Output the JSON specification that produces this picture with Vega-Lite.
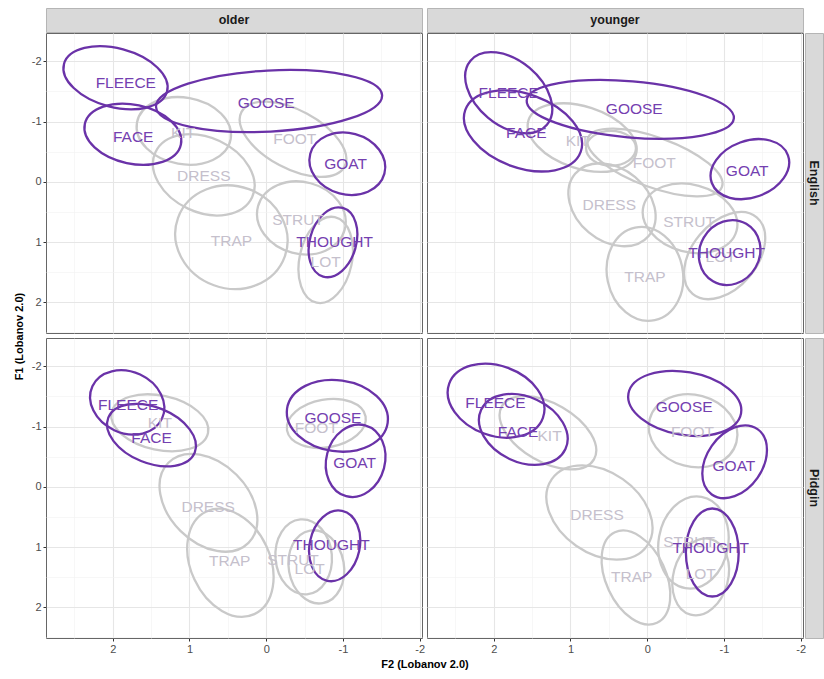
{
  "$schema": "https://vega.github.io/schema/vega-lite/v6.json",
  "padding": {"left": 12, "top": 2, "right": 0, "bottom": 5},
  "config": {
    "font": "Liberation Sans",
    "view": {"stroke": "#666666", "strokeWidth": 1},
    "axis": {"domain": false, "tickColor": "#333333", "tickSize": 3, "labelColor": "#4d4d4d", "labelFontSize": 11, "labelFont": "Liberation Sans", "labelPadding": 2, "titleFont": "Liberation Sans", "titleFontSize": 11, "titleFontWeight": "bold", "titleColor": "#000000"}
  },
  "data": {"values": [
    {"age": "older", "lang": "English", "vowel": "KIT", "grp": "gray", "cx": 1.074, "cy": -0.845, "len": 1.24, "ratio": 0.7, "ang": 10, "lx": 1.083, "ly": -0.817},
    {"age": "older", "lang": "English", "vowel": "DRESS", "grp": "gray", "cx": 0.814, "cy": -0.116, "len": 1.39, "ratio": 0.7, "ang": 25, "lx": 0.814, "ly": -0.088},
    {"age": "older", "lang": "English", "vowel": "TRAP", "grp": "gray", "cx": 0.454, "cy": 0.92, "len": 1.48, "ratio": 0.9, "ang": 20, "lx": 0.454, "ly": 0.988},
    {"age": "older", "lang": "English", "vowel": "FOOT", "grp": "gray", "cx": -0.349, "cy": -0.706, "len": 1.52, "ratio": 0.5, "ang": 28, "lx": -0.371, "ly": -0.706},
    {"age": "older", "lang": "English", "vowel": "STRUT", "grp": "gray", "cx": -0.458, "cy": 0.6, "len": 1.17, "ratio": 0.8, "ang": 15, "lx": -0.414, "ly": 0.635},
    {"age": "older", "lang": "English", "vowel": "LOT", "grp": "gray", "cx": -0.775, "cy": 1.297, "len": 1.14, "ratio": 0.6, "ang": -78, "lx": -0.775, "ly": 1.336},
    {"age": "younger", "lang": "English", "vowel": "KIT", "grp": "gray", "cx": 0.848, "cy": -0.734, "len": 1.47, "ratio": 0.55, "ang": 18, "lx": 0.905, "ly": -0.679},
    {"age": "younger", "lang": "English", "vowel": "", "grp": "gray", "cx": 0.472, "cy": -0.557, "len": 0.65, "ratio": 0.7, "ang": 0, "lx": 0.472, "ly": -0.557},
    {"age": "younger", "lang": "English", "vowel": "FOOT", "grp": "gray", "cx": -0.1, "cy": -0.32, "len": 1.86, "ratio": 0.35, "ang": 20, "lx": -0.091, "ly": -0.304},
    {"age": "younger", "lang": "English", "vowel": "DRESS", "grp": "gray", "cx": 0.459, "cy": 0.381, "len": 1.255, "ratio": 0.75, "ang": 40, "lx": 0.494, "ly": 0.381},
    {"age": "younger", "lang": "English", "vowel": "STRUT", "grp": "gray", "cx": -0.558, "cy": 0.607, "len": 1.255, "ratio": 0.7, "ang": 15, "lx": -0.545, "ly": 0.673},
    {"age": "younger", "lang": "English", "vowel": "TRAP", "grp": "gray", "cx": 0.03, "cy": 1.529, "len": 1.234, "ratio": 0.8, "ang": 78, "lx": 0.03, "ly": 1.573},
    {"age": "younger", "lang": "English", "vowel": "LOT", "grp": "gray", "cx": -1.009, "cy": 1.225, "len": 1.3, "ratio": 0.65, "ang": -50, "lx": -0.957, "ly": 1.253},
    {"age": "older", "lang": "Pidgin", "vowel": "KIT", "grp": "gray", "cx": 1.387, "cy": -1.063, "len": 1.285, "ratio": 0.55, "ang": 12, "lx": 1.387, "ly": -1.063},
    {"age": "older", "lang": "Pidgin", "vowel": "DRESS", "grp": "gray", "cx": 0.753, "cy": 0.266, "len": 1.476, "ratio": 0.7, "ang": 45, "lx": 0.757, "ly": 0.343},
    {"age": "older", "lang": "Pidgin", "vowel": "TRAP", "grp": "gray", "cx": 0.467, "cy": 1.262, "len": 1.476, "ratio": 0.7, "ang": 65, "lx": 0.475, "ly": 1.24},
    {"age": "older", "lang": "Pidgin", "vowel": "FOOT", "grp": "gray", "cx": -0.783, "cy": -1.052, "len": 1.04, "ratio": 0.6, "ang": -10, "lx": -0.653, "ly": -0.969},
    {"age": "older", "lang": "Pidgin", "vowel": "STRUT", "grp": "gray", "cx": -0.488, "cy": 1.163, "len": 0.98, "ratio": 0.75, "ang": 85, "lx": -0.349, "ly": 1.218},
    {"age": "older", "lang": "Pidgin", "vowel": "LOT", "grp": "gray", "cx": -0.653, "cy": 1.329, "len": 0.96, "ratio": 0.75, "ang": 80, "lx": -0.566, "ly": 1.357},
    {"age": "younger", "lang": "Pidgin", "vowel": "KIT", "grp": "gray", "cx": 1.294, "cy": -0.897, "len": 1.385, "ratio": 0.55, "ang": 30, "lx": 1.273, "ly": -0.842},
    {"age": "younger", "lang": "Pidgin", "vowel": "DRESS", "grp": "gray", "cx": 0.623, "cy": 0.426, "len": 1.515, "ratio": 0.7, "ang": 35, "lx": 0.654, "ly": 0.46},
    {"age": "younger", "lang": "Pidgin", "vowel": "TRAP", "grp": "gray", "cx": 0.147, "cy": 1.506, "len": 1.3, "ratio": 0.6, "ang": 65, "lx": 0.203, "ly": 1.495},
    {"age": "younger", "lang": "Pidgin", "vowel": "FOOT", "grp": "gray", "cx": -0.597, "cy": -0.93, "len": 1.17, "ratio": 0.8, "ang": 15, "lx": -0.589, "ly": -0.903},
    {"age": "younger", "lang": "Pidgin", "vowel": "STRUT", "grp": "gray", "cx": -0.602, "cy": 0.925, "len": 1.21, "ratio": 0.75, "ang": -80, "lx": -0.545, "ly": 0.914},
    {"age": "younger", "lang": "Pidgin", "vowel": "LOT", "grp": "gray", "cx": -0.697, "cy": 1.495, "len": 1.02, "ratio": 0.7, "ang": -75, "lx": -0.697, "ly": 1.44},
    {"age": "older", "lang": "English", "vowel": "FLEECE", "grp": "purple", "cx": 1.964, "cy": -1.727, "len": 1.39, "ratio": 0.55, "ang": 15, "lx": 1.83, "ly": -1.645},
    {"age": "older", "lang": "English", "vowel": "FACE", "grp": "purple", "cx": 1.738, "cy": -0.79, "len": 1.28, "ratio": 0.6, "ang": 12, "lx": 1.734, "ly": -0.745},
    {"age": "older", "lang": "English", "vowel": "GOOSE", "grp": "purple", "cx": -0.037, "cy": -1.34, "len": 2.95, "ratio": 0.27, "ang": -3, "lx": 0.0, "ly": -1.313},
    {"age": "older", "lang": "English", "vowel": "GOAT", "grp": "purple", "cx": -1.057, "cy": -0.3, "len": 1.0, "ratio": 0.8, "ang": 15, "lx": -1.035, "ly": -0.292},
    {"age": "older", "lang": "English", "vowel": "THOUGHT", "grp": "purple", "cx": -0.87, "cy": 1.004, "len": 0.93, "ratio": 0.65, "ang": -74, "lx": -0.892, "ly": 0.993},
    {"age": "younger", "lang": "English", "vowel": "FLEECE", "grp": "purple", "cx": 1.805, "cy": -1.479, "len": 1.3, "ratio": 0.65, "ang": 40, "lx": 1.805, "ly": -1.479},
    {"age": "younger", "lang": "English", "vowel": "FACE", "grp": "purple", "cx": 1.619, "cy": -0.844, "len": 1.6, "ratio": 0.6, "ang": 20, "lx": 1.576, "ly": -0.806},
    {"age": "younger", "lang": "English", "vowel": "GOOSE", "grp": "purple", "cx": 0.221, "cy": -1.203, "len": 2.71, "ratio": 0.27, "ang": 5, "lx": 0.169, "ly": -1.203},
    {"age": "younger", "lang": "English", "vowel": "GOAT", "grp": "purple", "cx": -1.338, "cy": -0.21, "len": 1.056, "ratio": 0.7, "ang": -20, "lx": -1.303, "ly": -0.171},
    {"age": "younger", "lang": "English", "vowel": "THOUGHT", "grp": "purple", "cx": -1.074, "cy": 1.175, "len": 0.866, "ratio": 0.9, "ang": -60, "lx": -1.035, "ly": 1.187},
    {"age": "older", "lang": "Pidgin", "vowel": "FLEECE", "grp": "purple", "cx": 1.812, "cy": -1.401, "len": 1.0, "ratio": 0.8, "ang": 25, "lx": 1.799, "ly": -1.357},
    {"age": "older", "lang": "Pidgin", "vowel": "FACE", "grp": "purple", "cx": 1.495, "cy": -0.858, "len": 1.215, "ratio": 0.6, "ang": 22, "lx": 1.495, "ly": -0.803},
    {"age": "older", "lang": "Pidgin", "vowel": "GOOSE", "grp": "purple", "cx": -0.927, "cy": -1.179, "len": 1.324, "ratio": 0.7, "ang": 8, "lx": -0.87, "ly": -1.146},
    {"age": "older", "lang": "Pidgin", "vowel": "GOAT", "grp": "purple", "cx": -1.165, "cy": -0.432, "len": 0.955, "ratio": 0.8, "ang": -75, "lx": -1.152, "ly": -0.388},
    {"age": "older", "lang": "Pidgin", "vowel": "THOUGHT", "grp": "purple", "cx": -0.892, "cy": 0.98, "len": 0.933, "ratio": 0.7, "ang": -78, "lx": -0.849, "ly": 0.969},
    {"age": "younger", "lang": "Pidgin", "vowel": "FLEECE", "grp": "purple", "cx": 1.97, "cy": -1.429, "len": 1.3, "ratio": 0.7, "ang": 20, "lx": 1.978, "ly": -1.395},
    {"age": "younger", "lang": "Pidgin", "vowel": "FACE", "grp": "purple", "cx": 1.615, "cy": -0.952, "len": 1.212, "ratio": 0.7, "ang": 25, "lx": 1.684, "ly": -0.914},
    {"age": "younger", "lang": "Pidgin", "vowel": "GOOSE", "grp": "purple", "cx": -0.489, "cy": -1.384, "len": 1.49, "ratio": 0.55, "ang": 10, "lx": -0.481, "ly": -1.329},
    {"age": "younger", "lang": "Pidgin", "vowel": "GOAT", "grp": "purple", "cx": -1.139, "cy": -0.415, "len": 1.039, "ratio": 0.7, "ang": -55, "lx": -1.13, "ly": -0.349},
    {"age": "younger", "lang": "Pidgin", "vowel": "THOUGHT", "grp": "purple", "cx": -0.848, "cy": 1.091, "len": 1.147, "ratio": 0.6, "ang": 90, "lx": -0.827, "ly": 1.024}
  ]},
  "columns": 4,
  "spacing": {"row": 1, "column": 2},
  "bounds": "flush",
  "align": "each",
  "concat": [
    {"width": 376, "height": 24, "data": {"values": [{"t": "older"}]}, "view": {"fill": "#d9d9d9", "stroke": "#b5b5b5"}, "mark": {"type": "text", "fontSize": 12.5, "fontWeight": "bold", "color": "#1a1a1a", "font": "Liberation Sans"}, "encoding": {"text": {"field": "t"}}},
    {"width": 1, "height": 1, "data": {"values": [{"t": ""}]}, "view": {"stroke": null}, "mark": {"type": "text"}, "encoding": {"text": {"field": "t"}}},
    {"width": 376, "height": 24, "data": {"values": [{"t": "younger"}]}, "view": {"fill": "#d9d9d9", "stroke": "#b5b5b5"}, "mark": {"type": "text", "fontSize": 12.5, "fontWeight": "bold", "color": "#1a1a1a", "font": "Liberation Sans"}, "encoding": {"text": {"field": "t"}}},
    {"width": 1, "height": 1, "data": {"values": [{"t": ""}]}, "view": {"stroke": null}, "mark": {"type": "text"}, "encoding": {"text": {"field": "t"}}},

    {"width": 376, "height": 300,
     "transform": [{"filter": "datum.age === 'older' && datum.lang === 'English'"}],
     "layer": [
      {"mark": {"type": "point", "filled": false, "opacity": 1, "strokeWidth": 2.3},
       "encoding": {
        "x": {"field": "cx", "type": "quantitative", "scale": {"domain": [-2.03, 2.87], "reverse": true, "nice": false, "zero": false}, "axis": {"values": [-2, -1.5, -1, -0.5, 0, 0.5, 1, 1.5, 2, 2.5], "labels": false, "ticks": false, "title": null, "gridColor": {"condition": {"test": "datum.value % 1 !== 0", "value": "#f2f2f2"}, "value": "#e6e6e6"}, "gridWidth": {"condition": {"test": "datum.value % 1 !== 0", "value": 0.6}, "value": 1.1}}},
        "y": {"field": "cy", "type": "quantitative", "scale": {"domain": [-2.47, 2.51], "reverse": true, "nice": false, "zero": false}, "axis": {"values": [-2, -1.5, -1, -0.5, 0, 0.5, 1, 1.5, 2, 2.5], "labelExpr": "datum.value % 1 === 0 ? '' + datum.value : ''", "labelOverlap": false, "labelFlush": false, "tickOpacity": {"condition": {"test": "datum.value % 1 !== 0", "value": 0}, "value": 1}, "title": "F1 (Lobanov 2.0)", "titleX": -27, "titleY": 303, "titleBaseline": "middle", "titleAlign": "center", "titleAngle": -90, "gridColor": {"condition": {"test": "datum.value % 1 !== 0", "value": "#f2f2f2"}, "value": "#e6e6e6"}, "gridWidth": {"condition": {"test": "datum.value % 1 !== 0", "value": 0.6}, "value": 1.1}}},
        "shape": {"field": "ratio", "type": "nominal", "legend": null, "scale": {"domain": [0.27, 0.35, 0.5, 0.55, 0.6, 0.65, 0.7, 0.75, 0.8, 0.9], "range": [
          "M1,0C1,0.1491 0.5523,0.27 0,0.27C-0.5523,0.27 -1,0.1491 -1,0C-1,-0.1491 -0.5523,-0.27 0,-0.27C0.5523,-0.27 1,-0.1491 1,0Z",
          "M1,0C1,0.1933 0.5523,0.35 0,0.35C-0.5523,0.35 -1,0.1933 -1,0C-1,-0.1933 -0.5523,-0.35 0,-0.35C0.5523,-0.35 1,-0.1933 1,0Z",
          "M1,0C1,0.2762 0.5523,0.5 0,0.5C-0.5523,0.5 -1,0.2762 -1,0C-1,-0.2762 -0.5523,-0.5 0,-0.5C0.5523,-0.5 1,-0.2762 1,0Z",
          "M1,0C1,0.3038 0.5523,0.55 0,0.55C-0.5523,0.55 -1,0.3038 -1,0C-1,-0.3038 -0.5523,-0.55 0,-0.55C0.5523,-0.55 1,-0.3038 1,0Z",
          "M1,0C1,0.3314 0.5523,0.6 0,0.6C-0.5523,0.6 -1,0.3314 -1,0C-1,-0.3314 -0.5523,-0.6 0,-0.6C0.5523,-0.6 1,-0.3314 1,0Z",
          "M1,0C1,0.359 0.5523,0.65 0,0.65C-0.5523,0.65 -1,0.359 -1,0C-1,-0.359 -0.5523,-0.65 0,-0.65C0.5523,-0.65 1,-0.359 1,0Z",
          "M1,0C1,0.3866 0.5523,0.7 0,0.7C-0.5523,0.7 -1,0.3866 -1,0C-1,-0.3866 -0.5523,-0.7 0,-0.7C0.5523,-0.7 1,-0.3866 1,0Z",
          "M1,0C1,0.4142 0.5523,0.75 0,0.75C-0.5523,0.75 -1,0.4142 -1,0C-1,-0.4142 -0.5523,-0.75 0,-0.75C0.5523,-0.75 1,-0.4142 1,0Z",
          "M1,0C1,0.4418 0.5523,0.8 0,0.8C-0.5523,0.8 -1,0.4418 -1,0C-1,-0.4418 -0.5523,-0.8 0,-0.8C0.5523,-0.8 1,-0.4418 1,0Z",
          "M1,0C1,0.4971 0.5523,0.9 0,0.9C-0.5523,0.9 -1,0.4971 -1,0C-1,-0.4971 -0.5523,-0.9 0,-0.9C0.5523,-0.9 1,-0.4971 1,0Z"]}},
        "size": {"field": "len", "type": "quantitative", "legend": null, "scale": {"type": "pow", "exponent": 2, "domain": [0, 4], "range": [0, 94206]}},
        "angle": {"field": "ang", "type": "quantitative", "scale": null},
        "stroke": {"field": "grp", "type": "nominal", "legend": null, "scale": {"domain": ["gray", "purple"], "range": ["#c9c9c9", "#6a32a8"]}}
       }},
      {"mark": {"type": "text", "fontSize": 15.5, "font": "Liberation Sans"},
       "encoding": {
        "x": {"field": "lx", "type": "quantitative", "scale": {"domain": [-2.03, 2.87], "reverse": true, "nice": false, "zero": false}, "axis": {"values": [-2, -1.5, -1, -0.5, 0, 0.5, 1, 1.5, 2, 2.5], "labels": false, "ticks": false, "title": null, "gridColor": {"condition": {"test": "datum.value % 1 !== 0", "value": "#f2f2f2"}, "value": "#e6e6e6"}, "gridWidth": {"condition": {"test": "datum.value % 1 !== 0", "value": 0.6}, "value": 1.1}}},
        "y": {"field": "ly", "type": "quantitative", "scale": {"domain": [-2.47, 2.51], "reverse": true, "nice": false, "zero": false}, "axis": {"values": [-2, -1.5, -1, -0.5, 0, 0.5, 1, 1.5, 2, 2.5], "labelExpr": "datum.value % 1 === 0 ? '' + datum.value : ''", "labelOverlap": false, "labelFlush": false, "tickOpacity": {"condition": {"test": "datum.value % 1 !== 0", "value": 0}, "value": 1}, "title": "F1 (Lobanov 2.0)", "titleX": -27, "titleY": 303, "titleBaseline": "middle", "titleAlign": "center", "titleAngle": -90, "gridColor": {"condition": {"test": "datum.value % 1 !== 0", "value": "#f2f2f2"}, "value": "#e6e6e6"}, "gridWidth": {"condition": {"test": "datum.value % 1 !== 0", "value": 0.6}, "value": 1.1}}},
        "text": {"field": "vowel"},
        "color": {"field": "grp", "type": "nominal", "legend": null, "scale": {"domain": ["gray", "purple"], "range": ["#c5c0cc", "#7440b0"]}}
       }}
     ]},
    {"width": 1, "height": 1, "data": {"values": [{"t": ""}]}, "view": {"stroke": null}, "mark": {"type": "text"}, "encoding": {"text": {"field": "t"}}},
    {"width": 376, "height": 300,
     "transform": [{"filter": "datum.age === 'younger' && datum.lang === 'English'"}],
     "layer": [
      {"mark": {"type": "point", "filled": false, "opacity": 1, "strokeWidth": 2.3},
       "encoding": {
        "x": {"field": "cx", "type": "quantitative", "scale": {"domain": [-2.03, 2.87], "reverse": true, "nice": false, "zero": false}, "axis": {"values": [-2, -1.5, -1, -0.5, 0, 0.5, 1, 1.5, 2, 2.5], "labels": false, "ticks": false, "title": null, "gridColor": {"condition": {"test": "datum.value % 1 !== 0", "value": "#f2f2f2"}, "value": "#e6e6e6"}, "gridWidth": {"condition": {"test": "datum.value % 1 !== 0", "value": 0.6}, "value": 1.1}}},
        "y": {"field": "cy", "type": "quantitative", "scale": {"domain": [-2.47, 2.51], "reverse": true, "nice": false, "zero": false}, "axis": {"values": [-2, -1.5, -1, -0.5, 0, 0.5, 1, 1.5, 2, 2.5], "labels": false, "ticks": false, "title": null, "gridColor": {"condition": {"test": "datum.value % 1 !== 0", "value": "#f2f2f2"}, "value": "#e6e6e6"}, "gridWidth": {"condition": {"test": "datum.value % 1 !== 0", "value": 0.6}, "value": 1.1}}},
        "shape": {"field": "ratio", "type": "nominal", "legend": null, "scale": {"domain": [0.27, 0.35, 0.5, 0.55, 0.6, 0.65, 0.7, 0.75, 0.8, 0.9], "range": [
          "M1,0C1,0.1491 0.5523,0.27 0,0.27C-0.5523,0.27 -1,0.1491 -1,0C-1,-0.1491 -0.5523,-0.27 0,-0.27C0.5523,-0.27 1,-0.1491 1,0Z",
          "M1,0C1,0.1933 0.5523,0.35 0,0.35C-0.5523,0.35 -1,0.1933 -1,0C-1,-0.1933 -0.5523,-0.35 0,-0.35C0.5523,-0.35 1,-0.1933 1,0Z",
          "M1,0C1,0.2762 0.5523,0.5 0,0.5C-0.5523,0.5 -1,0.2762 -1,0C-1,-0.2762 -0.5523,-0.5 0,-0.5C0.5523,-0.5 1,-0.2762 1,0Z",
          "M1,0C1,0.3038 0.5523,0.55 0,0.55C-0.5523,0.55 -1,0.3038 -1,0C-1,-0.3038 -0.5523,-0.55 0,-0.55C0.5523,-0.55 1,-0.3038 1,0Z",
          "M1,0C1,0.3314 0.5523,0.6 0,0.6C-0.5523,0.6 -1,0.3314 -1,0C-1,-0.3314 -0.5523,-0.6 0,-0.6C0.5523,-0.6 1,-0.3314 1,0Z",
          "M1,0C1,0.359 0.5523,0.65 0,0.65C-0.5523,0.65 -1,0.359 -1,0C-1,-0.359 -0.5523,-0.65 0,-0.65C0.5523,-0.65 1,-0.359 1,0Z",
          "M1,0C1,0.3866 0.5523,0.7 0,0.7C-0.5523,0.7 -1,0.3866 -1,0C-1,-0.3866 -0.5523,-0.7 0,-0.7C0.5523,-0.7 1,-0.3866 1,0Z",
          "M1,0C1,0.4142 0.5523,0.75 0,0.75C-0.5523,0.75 -1,0.4142 -1,0C-1,-0.4142 -0.5523,-0.75 0,-0.75C0.5523,-0.75 1,-0.4142 1,0Z",
          "M1,0C1,0.4418 0.5523,0.8 0,0.8C-0.5523,0.8 -1,0.4418 -1,0C-1,-0.4418 -0.5523,-0.8 0,-0.8C0.5523,-0.8 1,-0.4418 1,0Z",
          "M1,0C1,0.4971 0.5523,0.9 0,0.9C-0.5523,0.9 -1,0.4971 -1,0C-1,-0.4971 -0.5523,-0.9 0,-0.9C0.5523,-0.9 1,-0.4971 1,0Z"]}},
        "size": {"field": "len", "type": "quantitative", "legend": null, "scale": {"type": "pow", "exponent": 2, "domain": [0, 4], "range": [0, 94206]}},
        "angle": {"field": "ang", "type": "quantitative", "scale": null},
        "stroke": {"field": "grp", "type": "nominal", "legend": null, "scale": {"domain": ["gray", "purple"], "range": ["#c9c9c9", "#6a32a8"]}}
       }},
      {"mark": {"type": "text", "fontSize": 15.5, "font": "Liberation Sans"},
       "encoding": {
        "x": {"field": "lx", "type": "quantitative", "scale": {"domain": [-2.03, 2.87], "reverse": true, "nice": false, "zero": false}, "axis": {"values": [-2, -1.5, -1, -0.5, 0, 0.5, 1, 1.5, 2, 2.5], "labels": false, "ticks": false, "title": null, "gridColor": {"condition": {"test": "datum.value % 1 !== 0", "value": "#f2f2f2"}, "value": "#e6e6e6"}, "gridWidth": {"condition": {"test": "datum.value % 1 !== 0", "value": 0.6}, "value": 1.1}}},
        "y": {"field": "ly", "type": "quantitative", "scale": {"domain": [-2.47, 2.51], "reverse": true, "nice": false, "zero": false}, "axis": {"values": [-2, -1.5, -1, -0.5, 0, 0.5, 1, 1.5, 2, 2.5], "labels": false, "ticks": false, "title": null, "gridColor": {"condition": {"test": "datum.value % 1 !== 0", "value": "#f2f2f2"}, "value": "#e6e6e6"}, "gridWidth": {"condition": {"test": "datum.value % 1 !== 0", "value": 0.6}, "value": 1.1}}},
        "text": {"field": "vowel"},
        "color": {"field": "grp", "type": "nominal", "legend": null, "scale": {"domain": ["gray", "purple"], "range": ["#c5c0cc", "#7440b0"]}}
       }}
     ]},
    {"width": 18, "height": 300, "data": {"values": [{"t": "English"}]}, "view": {"fill": "#d9d9d9", "stroke": "#b5b5b5"}, "mark": {"type": "text", "fontSize": 12.5, "fontWeight": "bold", "color": "#1a1a1a", "angle": 90, "font": "Liberation Sans"}, "encoding": {"text": {"field": "t"}}},

    {"width": 1, "height": 3, "data": {"values": [{"t": ""}]}, "view": {"stroke": null}, "mark": {"type": "text"}, "encoding": {"text": {"field": "t"}}},
    {"width": 1, "height": 3, "data": {"values": [{"t": ""}]}, "view": {"stroke": null}, "mark": {"type": "text"}, "encoding": {"text": {"field": "t"}}},
    {"width": 1, "height": 3, "data": {"values": [{"t": ""}]}, "view": {"stroke": null}, "mark": {"type": "text"}, "encoding": {"text": {"field": "t"}}},
    {"width": 1, "height": 3, "data": {"values": [{"t": ""}]}, "view": {"stroke": null}, "mark": {"type": "text"}, "encoding": {"text": {"field": "t"}}},

    {"width": 376, "height": 300,
     "transform": [{"filter": "datum.age === 'older' && datum.lang === 'Pidgin'"}],
     "layer": [
      {"mark": {"type": "point", "filled": false, "opacity": 1, "strokeWidth": 2.3},
       "encoding": {
        "x": {"field": "cx", "type": "quantitative", "scale": {"domain": [-2.03, 2.87], "reverse": true, "nice": false, "zero": false}, "axis": {"values": [-2, -1.5, -1, -0.5, 0, 0.5, 1, 1.5, 2, 2.5], "labelExpr": "datum.value % 1 === 0 ? '' + datum.value : ''", "labelOverlap": false, "labelFlush": false, "tickOpacity": {"condition": {"test": "datum.value % 1 !== 0", "value": 0}, "value": 1}, "title": "F2 (Lobanov 2.0)", "titleX": 378.5, "titleY": 26, "titleBaseline": "middle", "titleAlign": "center", "gridColor": {"condition": {"test": "datum.value % 1 !== 0", "value": "#f2f2f2"}, "value": "#e6e6e6"}, "gridWidth": {"condition": {"test": "datum.value % 1 !== 0", "value": 0.6}, "value": 1.1}}},
        "y": {"field": "cy", "type": "quantitative", "scale": {"domain": [-2.47, 2.51], "reverse": true, "nice": false, "zero": false}, "axis": {"values": [-2, -1.5, -1, -0.5, 0, 0.5, 1, 1.5, 2, 2.5], "labelExpr": "datum.value % 1 === 0 ? '' + datum.value : ''", "labelOverlap": false, "labelFlush": false, "tickOpacity": {"condition": {"test": "datum.value % 1 !== 0", "value": 0}, "value": 1}, "title": null, "gridColor": {"condition": {"test": "datum.value % 1 !== 0", "value": "#f2f2f2"}, "value": "#e6e6e6"}, "gridWidth": {"condition": {"test": "datum.value % 1 !== 0", "value": 0.6}, "value": 1.1}}},
        "shape": {"field": "ratio", "type": "nominal", "legend": null, "scale": {"domain": [0.27, 0.35, 0.5, 0.55, 0.6, 0.65, 0.7, 0.75, 0.8, 0.9], "range": [
          "M1,0C1,0.1491 0.5523,0.27 0,0.27C-0.5523,0.27 -1,0.1491 -1,0C-1,-0.1491 -0.5523,-0.27 0,-0.27C0.5523,-0.27 1,-0.1491 1,0Z",
          "M1,0C1,0.1933 0.5523,0.35 0,0.35C-0.5523,0.35 -1,0.1933 -1,0C-1,-0.1933 -0.5523,-0.35 0,-0.35C0.5523,-0.35 1,-0.1933 1,0Z",
          "M1,0C1,0.2762 0.5523,0.5 0,0.5C-0.5523,0.5 -1,0.2762 -1,0C-1,-0.2762 -0.5523,-0.5 0,-0.5C0.5523,-0.5 1,-0.2762 1,0Z",
          "M1,0C1,0.3038 0.5523,0.55 0,0.55C-0.5523,0.55 -1,0.3038 -1,0C-1,-0.3038 -0.5523,-0.55 0,-0.55C0.5523,-0.55 1,-0.3038 1,0Z",
          "M1,0C1,0.3314 0.5523,0.6 0,0.6C-0.5523,0.6 -1,0.3314 -1,0C-1,-0.3314 -0.5523,-0.6 0,-0.6C0.5523,-0.6 1,-0.3314 1,0Z",
          "M1,0C1,0.359 0.5523,0.65 0,0.65C-0.5523,0.65 -1,0.359 -1,0C-1,-0.359 -0.5523,-0.65 0,-0.65C0.5523,-0.65 1,-0.359 1,0Z",
          "M1,0C1,0.3866 0.5523,0.7 0,0.7C-0.5523,0.7 -1,0.3866 -1,0C-1,-0.3866 -0.5523,-0.7 0,-0.7C0.5523,-0.7 1,-0.3866 1,0Z",
          "M1,0C1,0.4142 0.5523,0.75 0,0.75C-0.5523,0.75 -1,0.4142 -1,0C-1,-0.4142 -0.5523,-0.75 0,-0.75C0.5523,-0.75 1,-0.4142 1,0Z",
          "M1,0C1,0.4418 0.5523,0.8 0,0.8C-0.5523,0.8 -1,0.4418 -1,0C-1,-0.4418 -0.5523,-0.8 0,-0.8C0.5523,-0.8 1,-0.4418 1,0Z",
          "M1,0C1,0.4971 0.5523,0.9 0,0.9C-0.5523,0.9 -1,0.4971 -1,0C-1,-0.4971 -0.5523,-0.9 0,-0.9C0.5523,-0.9 1,-0.4971 1,0Z"]}},
        "size": {"field": "len", "type": "quantitative", "legend": null, "scale": {"type": "pow", "exponent": 2, "domain": [0, 4], "range": [0, 94206]}},
        "angle": {"field": "ang", "type": "quantitative", "scale": null},
        "stroke": {"field": "grp", "type": "nominal", "legend": null, "scale": {"domain": ["gray", "purple"], "range": ["#c9c9c9", "#6a32a8"]}}
       }},
      {"mark": {"type": "text", "fontSize": 15.5, "font": "Liberation Sans"},
       "encoding": {
        "x": {"field": "lx", "type": "quantitative", "scale": {"domain": [-2.03, 2.87], "reverse": true, "nice": false, "zero": false}, "axis": {"values": [-2, -1.5, -1, -0.5, 0, 0.5, 1, 1.5, 2, 2.5], "labelExpr": "datum.value % 1 === 0 ? '' + datum.value : ''", "labelOverlap": false, "labelFlush": false, "tickOpacity": {"condition": {"test": "datum.value % 1 !== 0", "value": 0}, "value": 1}, "title": "F2 (Lobanov 2.0)", "titleX": 378.5, "titleY": 26, "titleBaseline": "middle", "titleAlign": "center", "gridColor": {"condition": {"test": "datum.value % 1 !== 0", "value": "#f2f2f2"}, "value": "#e6e6e6"}, "gridWidth": {"condition": {"test": "datum.value % 1 !== 0", "value": 0.6}, "value": 1.1}}},
        "y": {"field": "ly", "type": "quantitative", "scale": {"domain": [-2.47, 2.51], "reverse": true, "nice": false, "zero": false}, "axis": {"values": [-2, -1.5, -1, -0.5, 0, 0.5, 1, 1.5, 2, 2.5], "labelExpr": "datum.value % 1 === 0 ? '' + datum.value : ''", "labelOverlap": false, "labelFlush": false, "tickOpacity": {"condition": {"test": "datum.value % 1 !== 0", "value": 0}, "value": 1}, "title": null, "gridColor": {"condition": {"test": "datum.value % 1 !== 0", "value": "#f2f2f2"}, "value": "#e6e6e6"}, "gridWidth": {"condition": {"test": "datum.value % 1 !== 0", "value": 0.6}, "value": 1.1}}},
        "text": {"field": "vowel"},
        "color": {"field": "grp", "type": "nominal", "legend": null, "scale": {"domain": ["gray", "purple"], "range": ["#c5c0cc", "#7440b0"]}}
       }}
     ]},
    {"width": 1, "height": 1, "data": {"values": [{"t": ""}]}, "view": {"stroke": null}, "mark": {"type": "text"}, "encoding": {"text": {"field": "t"}}},
    {"width": 376, "height": 300,
     "transform": [{"filter": "datum.age === 'younger' && datum.lang === 'Pidgin'"}],
     "layer": [
      {"mark": {"type": "point", "filled": false, "opacity": 1, "strokeWidth": 2.3},
       "encoding": {
        "x": {"field": "cx", "type": "quantitative", "scale": {"domain": [-2.03, 2.87], "reverse": true, "nice": false, "zero": false}, "axis": {"values": [-2, -1.5, -1, -0.5, 0, 0.5, 1, 1.5, 2, 2.5], "labelExpr": "datum.value % 1 === 0 ? '' + datum.value : ''", "labelOverlap": false, "labelFlush": false, "tickOpacity": {"condition": {"test": "datum.value % 1 !== 0", "value": 0}, "value": 1}, "title": null, "gridColor": {"condition": {"test": "datum.value % 1 !== 0", "value": "#f2f2f2"}, "value": "#e6e6e6"}, "gridWidth": {"condition": {"test": "datum.value % 1 !== 0", "value": 0.6}, "value": 1.1}}},
        "y": {"field": "cy", "type": "quantitative", "scale": {"domain": [-2.47, 2.51], "reverse": true, "nice": false, "zero": false}, "axis": {"values": [-2, -1.5, -1, -0.5, 0, 0.5, 1, 1.5, 2, 2.5], "labels": false, "ticks": false, "title": null, "gridColor": {"condition": {"test": "datum.value % 1 !== 0", "value": "#f2f2f2"}, "value": "#e6e6e6"}, "gridWidth": {"condition": {"test": "datum.value % 1 !== 0", "value": 0.6}, "value": 1.1}}},
        "shape": {"field": "ratio", "type": "nominal", "legend": null, "scale": {"domain": [0.27, 0.35, 0.5, 0.55, 0.6, 0.65, 0.7, 0.75, 0.8, 0.9], "range": [
          "M1,0C1,0.1491 0.5523,0.27 0,0.27C-0.5523,0.27 -1,0.1491 -1,0C-1,-0.1491 -0.5523,-0.27 0,-0.27C0.5523,-0.27 1,-0.1491 1,0Z",
          "M1,0C1,0.1933 0.5523,0.35 0,0.35C-0.5523,0.35 -1,0.1933 -1,0C-1,-0.1933 -0.5523,-0.35 0,-0.35C0.5523,-0.35 1,-0.1933 1,0Z",
          "M1,0C1,0.2762 0.5523,0.5 0,0.5C-0.5523,0.5 -1,0.2762 -1,0C-1,-0.2762 -0.5523,-0.5 0,-0.5C0.5523,-0.5 1,-0.2762 1,0Z",
          "M1,0C1,0.3038 0.5523,0.55 0,0.55C-0.5523,0.55 -1,0.3038 -1,0C-1,-0.3038 -0.5523,-0.55 0,-0.55C0.5523,-0.55 1,-0.3038 1,0Z",
          "M1,0C1,0.3314 0.5523,0.6 0,0.6C-0.5523,0.6 -1,0.3314 -1,0C-1,-0.3314 -0.5523,-0.6 0,-0.6C0.5523,-0.6 1,-0.3314 1,0Z",
          "M1,0C1,0.359 0.5523,0.65 0,0.65C-0.5523,0.65 -1,0.359 -1,0C-1,-0.359 -0.5523,-0.65 0,-0.65C0.5523,-0.65 1,-0.359 1,0Z",
          "M1,0C1,0.3866 0.5523,0.7 0,0.7C-0.5523,0.7 -1,0.3866 -1,0C-1,-0.3866 -0.5523,-0.7 0,-0.7C0.5523,-0.7 1,-0.3866 1,0Z",
          "M1,0C1,0.4142 0.5523,0.75 0,0.75C-0.5523,0.75 -1,0.4142 -1,0C-1,-0.4142 -0.5523,-0.75 0,-0.75C0.5523,-0.75 1,-0.4142 1,0Z",
          "M1,0C1,0.4418 0.5523,0.8 0,0.8C-0.5523,0.8 -1,0.4418 -1,0C-1,-0.4418 -0.5523,-0.8 0,-0.8C0.5523,-0.8 1,-0.4418 1,0Z",
          "M1,0C1,0.4971 0.5523,0.9 0,0.9C-0.5523,0.9 -1,0.4971 -1,0C-1,-0.4971 -0.5523,-0.9 0,-0.9C0.5523,-0.9 1,-0.4971 1,0Z"]}},
        "size": {"field": "len", "type": "quantitative", "legend": null, "scale": {"type": "pow", "exponent": 2, "domain": [0, 4], "range": [0, 94206]}},
        "angle": {"field": "ang", "type": "quantitative", "scale": null},
        "stroke": {"field": "grp", "type": "nominal", "legend": null, "scale": {"domain": ["gray", "purple"], "range": ["#c9c9c9", "#6a32a8"]}}
       }},
      {"mark": {"type": "text", "fontSize": 15.5, "font": "Liberation Sans"},
       "encoding": {
        "x": {"field": "lx", "type": "quantitative", "scale": {"domain": [-2.03, 2.87], "reverse": true, "nice": false, "zero": false}, "axis": {"values": [-2, -1.5, -1, -0.5, 0, 0.5, 1, 1.5, 2, 2.5], "labelExpr": "datum.value % 1 === 0 ? '' + datum.value : ''", "labelOverlap": false, "labelFlush": false, "tickOpacity": {"condition": {"test": "datum.value % 1 !== 0", "value": 0}, "value": 1}, "title": null, "gridColor": {"condition": {"test": "datum.value % 1 !== 0", "value": "#f2f2f2"}, "value": "#e6e6e6"}, "gridWidth": {"condition": {"test": "datum.value % 1 !== 0", "value": 0.6}, "value": 1.1}}},
        "y": {"field": "ly", "type": "quantitative", "scale": {"domain": [-2.47, 2.51], "reverse": true, "nice": false, "zero": false}, "axis": {"values": [-2, -1.5, -1, -0.5, 0, 0.5, 1, 1.5, 2, 2.5], "labels": false, "ticks": false, "title": null, "gridColor": {"condition": {"test": "datum.value % 1 !== 0", "value": "#f2f2f2"}, "value": "#e6e6e6"}, "gridWidth": {"condition": {"test": "datum.value % 1 !== 0", "value": 0.6}, "value": 1.1}}},
        "text": {"field": "vowel"},
        "color": {"field": "grp", "type": "nominal", "legend": null, "scale": {"domain": ["gray", "purple"], "range": ["#c5c0cc", "#7440b0"]}}
       }}
     ]},
    {"width": 18, "height": 300, "data": {"values": [{"t": "Pidgin"}]}, "view": {"fill": "#d9d9d9", "stroke": "#b5b5b5"}, "mark": {"type": "text", "fontSize": 12.5, "fontWeight": "bold", "color": "#1a1a1a", "angle": 90, "font": "Liberation Sans"}, "encoding": {"text": {"field": "t"}}}
  ]
}
